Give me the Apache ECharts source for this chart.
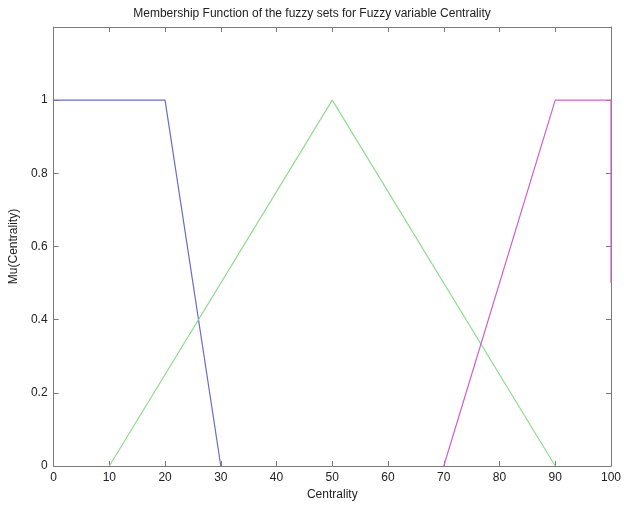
<!DOCTYPE html>
<html>
<head>
<meta charset="utf-8">
<script src="https://cdn.jsdelivr.net/npm/echarts@6/dist/echarts.min.js"></script>
<style>
  html, body { margin: 0; padding: 0; background: #fff; }
  #chart { width: 624px; height: 506px; }
</style>
</head>
<body>
<div id="chart"></div>
<script>
// Membership functions of the three fuzzy sets (x = Centrality, y = membership)
const lowX = [0, 20, 30];
const lowY = [1, 1, 0];
const mediumX = [10, 50, 90];
const mediumY = [0, 1, 0];
const highX = [70, 90, 100, 100];
const highY = [0, 1, 1, 0.5];

const xTicks = [0, 10, 20, 30, 40, 50, 60, 70, 80, 90, 100];
const yTicks = [0, 0.2, 0.4, 0.6, 0.8, 1];

const pairs = (xs, ys) => xs.map((x, i) => [x, ys[i]]);

const font = 'Liberation Sans, Arial, sans-serif';
const axisColor = '#7a7a7a';
const textColor = '#222';

const chart = echarts.init(document.getElementById('chart'));

const baseAxis = {
  axisLine: { show: true, onZero: false, lineStyle: { color: axisColor, width: 1 } },
  axisTick: { show: true, inside: true, length: 5, lineStyle: { color: axisColor } },
  splitLine: { show: false }
};

chart.setOption({
  animation: false,
  backgroundColor: '#fff',
  title: {
    text: 'Membership Function of the fuzzy sets for Fuzzy variable Centrality',
    left: 'center',
    top: 3,
    textStyle: { fontFamily: font, fontSize: 12, fontWeight: 'normal', color: textColor }
  },
  grid: { left: 52, right: 13, top: 27, bottom: 40 },
  xAxis: [
    Object.assign({}, baseAxis, {
      type: 'value', min: 0, max: 100, interval: 10, position: 'bottom',
      name: 'Centrality', nameLocation: 'middle', nameGap: 23,
      nameTextStyle: { fontFamily: font, fontSize: 12, color: textColor },
      axisLabel: {
        fontFamily: font, fontSize: 12, color: textColor, margin: 6,
        formatter: v => xTicks.includes(v) ? String(v) : ''
      }
    }),
    Object.assign({}, baseAxis, {
      type: 'value', min: 0, max: 100, interval: 10, position: 'top',
      axisLabel: { show: false }
    })
  ],
  yAxis: [
    Object.assign({}, baseAxis, {
      type: 'value', min: 0, max: 1.2, interval: 0.2, position: 'left',
      name: 'Mu(Centrality)', nameLocation: 'middle', nameGap: 30, nameRotate: 90,
      nameTextStyle: { fontFamily: font, fontSize: 12, color: textColor },
      axisTick: { show: true, inside: true, length: 5, lineStyle: { color: axisColor },
        customValues: yTicks },
      axisLabel: {
        fontFamily: font, fontSize: 12, color: textColor, margin: 6,
        customValues: yTicks,
        formatter: v => String(+v.toFixed(1))
      }
    }),
    Object.assign({}, baseAxis, {
      type: 'value', min: 0, max: 1.2, interval: 0.2, position: 'right',
      axisTick: { show: true, inside: true, length: 5, lineStyle: { color: axisColor },
        customValues: yTicks },
      axisLabel: { show: false }
    })
  ],
  series: [
    {
      name: 'Low', type: 'line', data: pairs(lowX, lowY), showSymbol: false,
      lineStyle: { color: '#6b6bcc', width: 1.2 }, itemStyle: { color: '#6b6bcc' }
    },
    {
      name: 'Medium', type: 'line', data: pairs(mediumX, mediumY), showSymbol: false,
      lineStyle: { color: '#8fdc8f', width: 1.2 }, itemStyle: { color: '#8fdc8f' }
    },
    {
      name: 'High', type: 'line', data: pairs(highX, highY), showSymbol: false,
      lineStyle: { color: '#d060d0', width: 1.2 }, itemStyle: { color: '#d060d0' }
    }
  ]
});
</script>
</body>
</html>
